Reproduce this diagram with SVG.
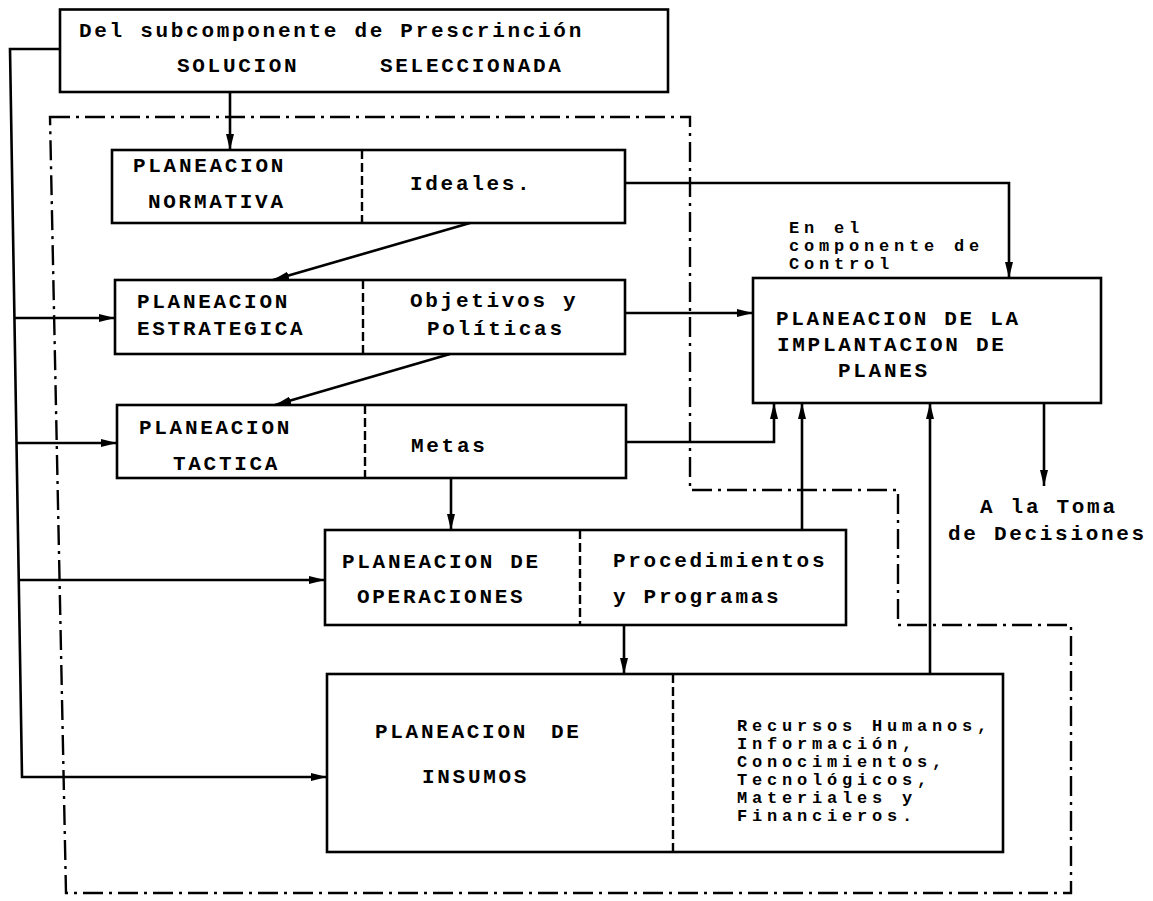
<svg xmlns="http://www.w3.org/2000/svg" width="1153" height="901" viewBox="0 0 1153 901">
  <style>
    .box { fill: none; stroke: #000; stroke-width: 2.6; }
    .div { fill: none; stroke: #000; stroke-width: 2.4; stroke-dasharray: 9 4; }
    .ln { fill: none; stroke: #000; stroke-width: 2.6; }
    .bound { fill: none; stroke: #000; stroke-width: 2.4; stroke-dasharray: 20 6 3 6; }
    .t { font-family: "Liberation Mono", "DejaVu Sans Mono", monospace; font-weight: bold; font-size: 21px; letter-spacing: 2.7px; fill: #000; }
    .s { font-family: "Liberation Mono", "DejaVu Sans Mono", monospace; font-weight: bold; font-size: 17px; letter-spacing: 4.8px; fill: #000; }
  </style>
  <defs>
    <marker id="ah" viewBox="0 0 16 8" refX="16" refY="4" markerWidth="16" markerHeight="8" markerUnits="userSpaceOnUse" orient="auto">
      <path d="M0,0 L16,4 L0,8 z" fill="#000"/>
    </marker>
  </defs>
  <rect width="1153" height="901" fill="#fff"/>

  <!-- planning subsystem boundary -->
  <path id="boundary" class="bound" d="M50,117 H690 V490 H898 V625 H1071 V893 H66 Z"/>

  <g id="prescripcion">
    <rect class="box" x="60" y="9.5" width="608" height="82.5"/>
    <text class="t" x="79" y="37">Del subcomponente de Prescrinción</text>
    <text class="t" x="177" y="72">SOLUCION</text>
    <text class="t" x="380" y="72">SELECCIONADA</text>
  </g>

  <g id="normativa">
    <rect class="box" x="112" y="150" width="513" height="73"/>
    <line class="div" x1="362" y1="150" x2="362" y2="223"/>
    <text class="t" x="133" y="172">PLANEACION</text>
    <text class="t" x="148" y="208">NORMATIVA</text>
    <text class="t" x="410" y="190">Ideales.</text>
  </g>

  <g id="estrategica">
    <rect class="box" x="115" y="280" width="510" height="74"/>
    <line class="div" x1="363" y1="280" x2="363" y2="354"/>
    <text class="t" x="137" y="308">PLANEACION</text>
    <text class="t" x="137" y="335">ESTRATEGICA</text>
    <text class="t" x="410" y="307">Objetivos y</text>
    <text class="t" x="427" y="335">Políticas</text>
  </g>

  <g id="tactica">
    <rect class="box" x="117" y="405" width="509" height="73"/>
    <line class="div" x1="365" y1="405" x2="365" y2="478"/>
    <text class="t" x="139" y="434">PLANEACION</text>
    <text class="t" x="173" y="470">TACTICA</text>
    <text class="t" x="411" y="452">Metas</text>
  </g>

  <g id="operaciones">
    <rect class="box" x="325" y="530" width="521" height="95"/>
    <line class="div" x1="580" y1="530" x2="580" y2="625"/>
    <text class="t" x="342" y="568">PLANEACION DE</text>
    <text class="t" x="357" y="603">OPERACIONES</text>
    <text class="t" x="613" y="567">Procedimientos</text>
    <text class="t" x="613" y="603">y Programas</text>
  </g>

  <g id="insumos">
    <rect class="box" x="327" y="674" width="676" height="178"/>
    <line class="div" x1="673" y1="674" x2="673" y2="852"/>
    <text class="t" x="375" y="738">PLANEACION</text>
    <text class="t" x="551" y="738">DE</text>
    <text class="t" x="422" y="783">INSUMOS</text>
    <text class="s" x="737" y="731">Recursos Humanos,</text>
    <text class="s" x="737" y="749">Información,</text>
    <text class="s" x="737" y="767">Conocimientos,</text>
    <text class="s" x="737" y="785">Tecnológicos,</text>
    <text class="s" x="737" y="803">Materiales  y</text>
    <text class="s" x="737" y="821">Financieros.</text>
  </g>

  <g id="implantacion">
    <rect class="box" x="753" y="278" width="348" height="125"/>
    <text class="t" x="776" y="325">PLANEACION DE LA</text>
    <text class="t" x="777" y="351">IMPLANTACION DE</text>
    <text class="t" x="838" y="377">PLANES</text>
  </g>

  <g id="control">
    <text class="s" x="789" y="233">En el</text>
    <text class="s" x="789" y="251">componente de</text>
    <text class="s" x="789" y="269">Control</text>
  </g>

  <g id="decisiones">
    <text class="t" x="980" y="513">A la Toma</text>
    <text class="t" x="948" y="540">de Decisiones</text>
  </g>

  <g id="connectors">
    <path class="ln" d="M230,92 V150" marker-end="url(#ah)"/>
    <path class="ln" d="M625,183 H1009 V278" marker-end="url(#ah)"/>
    <path class="ln" d="M470,223 L273,280" marker-end="url(#ah)"/>
    <path class="ln" d="M625,313 H753" marker-end="url(#ah)"/>
    <path class="ln" d="M450,354 L275,405" marker-end="url(#ah)"/>
    <path class="ln" d="M626,442 H774 V403" marker-end="url(#ah)"/>
    <path class="ln" d="M451,478 V530" marker-end="url(#ah)"/>
    <path class="ln" d="M802,530 V403" marker-end="url(#ah)"/>
    <path class="ln" d="M624,625 V674" marker-end="url(#ah)"/>
    <path class="ln" d="M930,674 V403" marker-end="url(#ah)"/>
    <path class="ln" d="M1044,403 V486" marker-end="url(#ah)"/>
    <!-- feedback bus from the selected solution -->
    <path class="ln" d="M60,49 H10 L22,777 H327" marker-end="url(#ah)"/>
    <path class="ln" d="M14.4,318 H115" marker-end="url(#ah)"/>
    <path class="ln" d="M16.5,443 H117" marker-end="url(#ah)"/>
    <path class="ln" d="M18.8,580 H325" marker-end="url(#ah)"/>
  </g>
</svg>
